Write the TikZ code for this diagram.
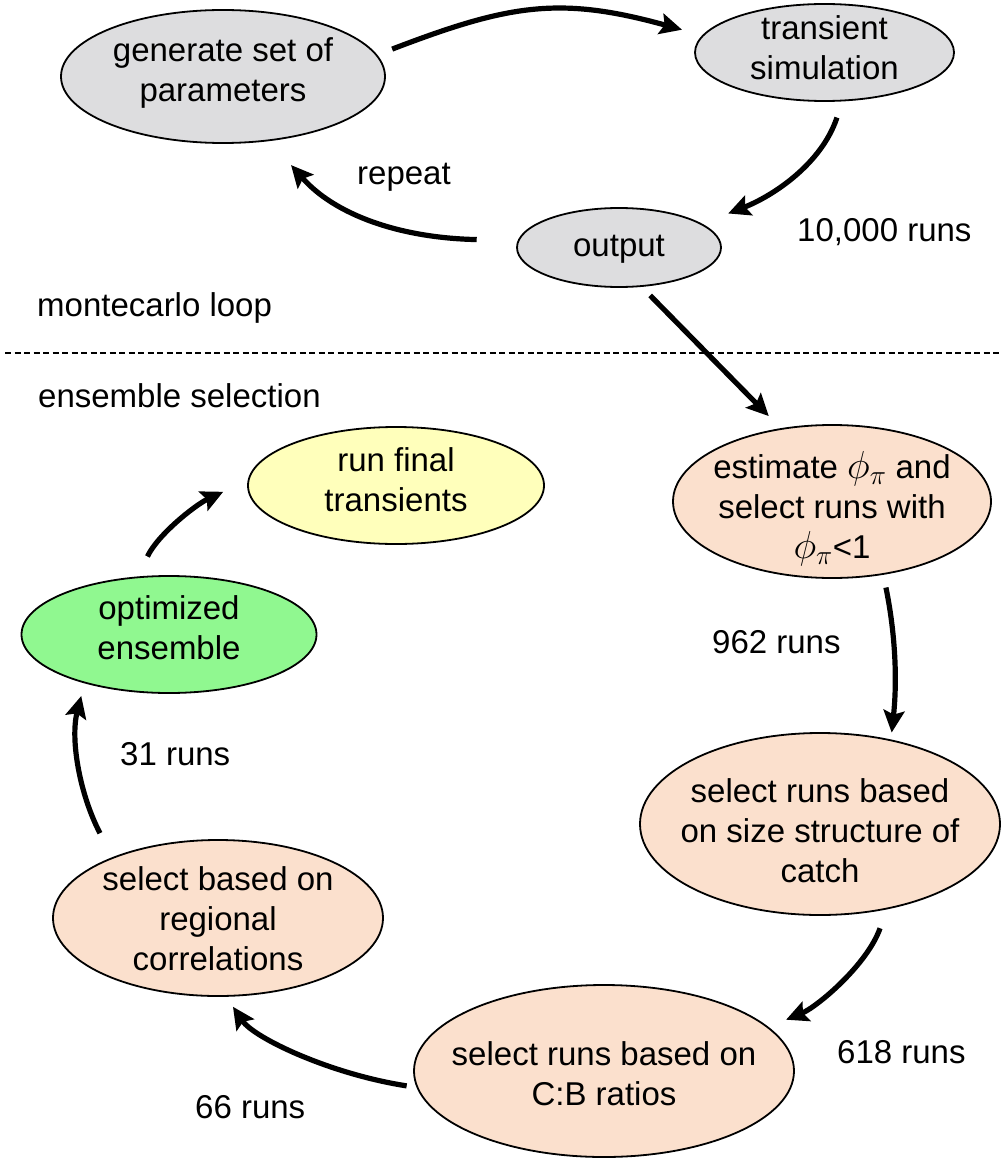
\RequirePackage{fix-cm}
\documentclass[tikz,border=0pt]{standalone}
\usepackage{fontspec}
\setmainfont{Liberation Sans}
\usetikzlibrary{arrows.meta,shapes.geometric}
\definecolor{boxgray}{RGB}{221,221,223}
\definecolor{boxpeach}{RGB}{251,224,205}
\definecolor{boxyellow}{RGB}{255,255,187}
\definecolor{boxgreen}{RGB}{144,248,144}
\newcommand{\phipi}{{\fontsize{39}{40}\selectfont$\phi_\pi$}}
\begin{document}
\begin{tikzpicture}[x=1pt,y=-1pt,
  ell/.style={ellipse, draw=black, line width=1.8pt, inner sep=0pt},
  txt/.style={font=\fontsize{33}{40}\selectfont, align=center, inner sep=0pt},
  lbl/.style={font=\fontsize{33}{40}\selectfont, inner sep=0pt, anchor=base west},
  arr/.style={line width=5.2pt, -{Stealth[length=22pt,width=21pt,inset=4pt]}},
  sep/.style={line width=1.4pt, dash pattern=on 6pt off 3.5pt}
]
\fill[white] (0,0) rectangle (1002,1158);
\useasboundingbox (0,0) rectangle (1002,1158);

% ellipses
\node[ell, fill=boxgray, minimum width=324pt, minimum height=133pt,
  label={[txt,name=Gt,yshift=4pt]center:{generate set of\\parameters}}] (G) at (223,76.5) {};
\node[ell, fill=boxgray, minimum width=259pt, minimum height=97pt,
  label={[txt,name=Tt,yshift=4.5pt]center:{transient\\simulation}}] (T) at (824.5,52.5) {};
\node[ell, fill=boxgray, minimum width=204pt, minimum height=79pt,
  label={[txt,name=Ot,yshift=-2pt]center:{output}}] (O) at (619,247.5) {};
\node[ell, fill=boxpeach, minimum width=318pt, minimum height=153pt,
  label={[txt,name=Et,yshift=-7pt]center:{estimate \phipi{} and\\select runs with\\\phipi{}<1}}] (E) at (832,501.5) {};
\node[ell, fill=boxyellow, minimum width=296pt, minimum height=117pt,
  label={[txt,name=Yt,yshift=5.5pt]center:{run final\\transients}}] (Y) at (396,485.5) {};
\node[ell, fill=boxgreen, minimum width=295pt, minimum height=117pt,
  label={[txt,name=Grt,yshift=6.5pt]center:{optimized\\ensemble}}] (Gr) at (169,634.5) {};
\node[ell, fill=boxpeach, minimum width=360pt, minimum height=182pt,
  label={[txt,name=St,yshift=-6.5pt]center:{select runs based\\on size structure of\\catch}}] (S) at (820,824) {};
\node[ell, fill=boxpeach, minimum width=330pt, minimum height=156pt,
  label={[txt,name=Rt,yshift=-1pt]center:{select based on\\regional\\correlations}}] (R) at (218,918) {};
\node[ell, fill=boxpeach, minimum width=380pt, minimum height=172pt,
  label={[txt,name=Ct,yshift=-3pt]center:{select runs based on\\C:B ratios}}] (C) at (604,1071) {};

% connectors
\draw[arr, shorten <=16pt, shorten >=21pt] (G.8) .. controls (510,4) and (560,-4) .. (T.172);
\draw[arr, shorten <=17pt, shorten >=28pt] (T.-70) .. controls (821.5,164) and (773,196) .. (O.16);
\draw[arr, shorten <=41pt, shorten >=32pt] (O.176) .. controls (400,238) and (335,215) .. (G.-54);
\draw[arr, shorten <=12pt, shorten >=17pt] (O.-60) -- (E.125);
\draw[arr, shorten <=13pt, shorten >=7pt] (E.-55) .. controls (896,637) and (897,683) .. (S.50);
\draw[arr, shorten <=20pt, shorten >=19pt] (S.-52) .. controls (867,965) and (817,1007) .. (C.15);
\draw[arr, shorten <=10pt, shorten >=12pt] (C.185) .. controls (330,1074) and (254,1038) .. (R.-84);
\draw[arr, shorten <=27pt, shorten >=13pt] (R.150) .. controls (80,795) and (70,740) .. (Gr.210);
\draw[arr, shorten <=22pt, shorten >=27pt] (Gr.118) .. controls (157.5,535) and (195,505) .. (Y.178);

% separator
\coordinate (sepL) at (5,353);
\coordinate (sepR) at (1002,353);
\draw[sep] (sepL) -- (sepR);

% labels
\node[lbl] (rep) at (357,185) {repeat};
\node[lbl] (r10000) at (797,242) {10,000 runs};
\node[lbl] (mcl) at (37,316) {montecarlo loop};
\node[lbl] (ens) at (38,407) {ensemble selection};
\node[lbl] (r962) at (712,653) {962 runs};
\node[lbl] (r31) at (120,765) {31 runs};
\node[lbl] (r618) at (837,1063) {618 runs};
\node[lbl] (r66) at (195,1118) {66 runs};
\end{tikzpicture}
\end{document}
